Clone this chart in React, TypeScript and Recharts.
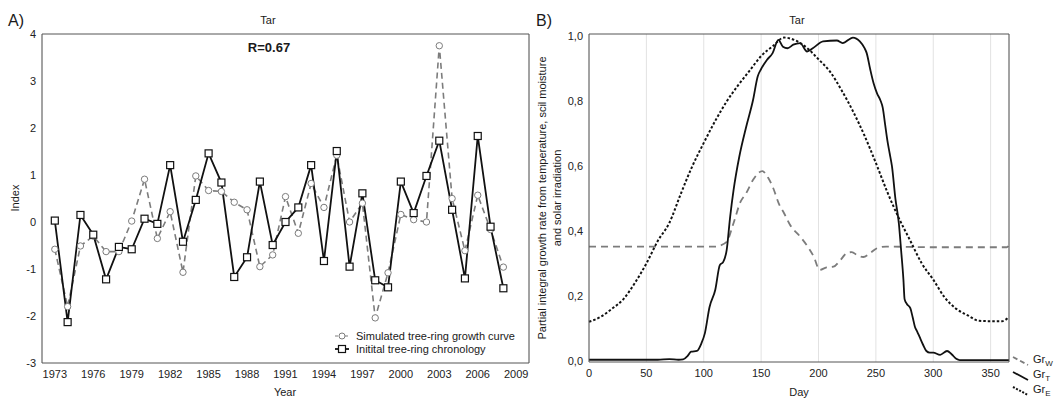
import React from "react";
import { LineChart, Line, XAxis, YAxis, CartesianGrid } from "recharts";

const FONT = '"Liberation Sans", Arial, sans-serif';
const AX = "#555";
const GRID = "#e2e2e2";
const GRAY = "#7c7c7c";

// ---- panel A: tree-ring indices
const years = [
  1973, 1974, 1975, 1976, 1977, 1978, 1979, 1980, 1981, 1982, 1983, 1984,
  1985, 1986, 1987, 1988, 1989, 1990, 1991, 1992, 1993, 1994, 1995, 1996,
  1997, 1998, 1999, 2000, 2001, 2002, 2003, 2004, 2005, 2006, 2007, 2008,
];
const chronology = [
  0.03, -2.13, 0.15, -0.27, -1.22, -0.53, -0.58, 0.07, -0.04, 1.21, -0.42, 0.47,
  1.46, 0.84, -1.17, -0.75, 0.86, -0.49, 0.0, 0.31, 1.21, -0.83, 1.51, -0.95,
  0.61, -1.24, -1.39, 0.86, 0.19, 0.98, 1.73, 0.26, -1.2, 1.83, -0.1, -1.41,
];
const simulated = [
  -0.58, -1.8, -0.51, -0.3, -0.63, -0.63, 0.02, 0.91, -0.35, 0.22, -1.07, 0.98,
  0.67, 0.65, 0.42, 0.26, -0.95, -0.7, 0.54, -0.24, 0.82, 0.31, 1.42, 0.0,
  0.4, -2.04, -1.08, 0.16, 0.05, 0.0, 3.75, 0.5, -0.61, 0.57, -0.16, -0.96,
];
const yearTicks = [1973, 1976, 1979, 1982, 1985, 1988, 1991, 1994, 1997, 2000, 2003, 2006, 2009];
const yearGrid = [1973, 1975, 1977, 1979, 1981, 1983, 1985, 1987, 1989, 1991, 1993, 1995, 1997, 1999, 2001, 2003, 2005, 2007, 2009];
const indexTicks = [-3, -2, -1, 0, 1, 2, 3, 4];

// ---- panel B: partial growth rates
const grWDays = [0, 110, 114, 120, 126, 132, 137, 143, 151, 156, 160, 166, 170, 175, 184, 190, 196, 201, 207, 213, 219, 225, 229, 234, 239, 245, 251, 259, 300, 364, 366];
const grWValues = [0.352, 0.352, 0.355, 0.367, 0.425, 0.49, 0.517, 0.558, 0.585, 0.565, 0.537, 0.48, 0.455, 0.42, 0.383, 0.355, 0.32, 0.28, 0.288, 0.29, 0.31, 0.333, 0.335, 0.325, 0.32, 0.332, 0.347, 0.352, 0.35, 0.35, 0.357];

const grTDays = [0, 60, 70, 78, 82, 86, 89, 94, 98, 101, 105, 110, 114, 117, 120, 123, 126, 131, 137, 143, 147, 150, 155, 160, 165, 169, 173, 178, 184, 190, 195, 204, 216, 221, 230, 236, 240, 242, 245, 248, 251, 254, 256, 258, 260, 262, 264, 267, 270, 272, 274, 275, 277, 280, 282, 284, 286, 288, 291, 294, 297, 300, 306, 312, 316, 320, 323, 366];
const grTValues = [0.003, 0.003, 0.005, 0.003, 0.004, 0.015, 0.028, 0.03, 0.054, 0.085, 0.165, 0.218, 0.295, 0.305, 0.342, 0.444, 0.527, 0.63, 0.722, 0.805, 0.877, 0.9, 0.928, 0.949, 0.99, 0.969, 0.964, 0.975, 0.98, 0.954, 0.964, 0.985, 0.988, 0.98, 0.997, 0.985, 0.965, 0.949, 0.9, 0.856, 0.825, 0.803, 0.78, 0.73, 0.68, 0.64, 0.6, 0.5, 0.424, 0.34, 0.25, 0.19, 0.175, 0.162, 0.135, 0.105, 0.09, 0.074, 0.05, 0.03, 0.025, 0.025, 0.018, 0.03, 0.02, 0.006, 0.002, 0.002];

const grEDays = [0, 10, 20, 30, 40, 50, 60, 70, 80, 90, 100, 110, 120, 130, 140, 150, 160, 170, 180, 190, 200, 210, 220, 230, 240, 250, 260, 270, 280, 290, 300, 310, 320, 330, 340, 350, 360, 366];
const grEValues = [0.12, 0.135, 0.16, 0.19, 0.24, 0.3, 0.37, 0.425, 0.515, 0.6, 0.672, 0.74, 0.8, 0.85, 0.895, 0.94, 0.97, 0.997, 0.988, 0.965, 0.93, 0.892, 0.835, 0.77, 0.695, 0.61, 0.52, 0.44, 0.37, 0.3, 0.25, 0.195, 0.16, 0.14, 0.123, 0.122, 0.122, 0.135];

const dayTicks = [0, 50, 100, 150, 200, 250, 300, 350];
const dayMinor = [0, 10, 20, 30, 40, 50, 60, 70, 80, 90, 100, 110, 120, 130, 140, 150, 160, 170, 180, 190, 200, 210, 220, 230, 240, 250, 260, 270, 280, 290, 300, 310, 320, 330, 340, 350, 360];
const rateTicks = [0, 0.2, 0.4, 0.6, 0.8, 1.0];
const rateMinor = [0, 0.1, 0.2, 0.3, 0.4, 0.5, 0.6, 0.7, 0.8, 0.9, 1.0];

const treeData = years.map((year, i) => ({ year, sim: simulated[i], chron: chronology[i] }));
const toSeries = (days: number[], vals: number[]) => days.map((day, i) => ({ day, v: vals[i] }));

const tickStyle = { fill: "#222", fontSize: 11, fontFamily: FONT };

function Txt({ x, y, children, size = 11, bold = false, rotate = false, align = "center" }: any) {
  return (
    <div
      style={{
        position: "absolute",
        left: x,
        top: y,
        transform: `translate(${align === "left" ? "0" : "-50%"}, -50%)${rotate ? " rotate(-90deg)" : ""}`,
        fontFamily: FONT,
        fontSize: size,
        fontWeight: bold ? "bold" : "normal",
        color: "#1a1a1a",
        whiteSpace: "nowrap",
        lineHeight: 1,
      }}
    >
      {children}
    </div>
  );
}

const SquareDot = (p: any) =>
  p.cx == null ? null : (
    <rect key={p.index} x={p.cx - 3.5} y={p.cy - 3.5} width={7} height={7} fill="#fff" stroke="#111" strokeWidth={1.2} />
  );

const CircleDot = (p: any) =>
  p.cx == null ? null : (
    <circle key={p.index} cx={p.cx} cy={p.cy} r={3.2} fill="#fff" stroke={GRAY} strokeWidth={1} />
  );

function LegendA() {
  const row = (dash: boolean, label: string) => (
    <div style={{ display: "flex", alignItems: "center", height: 13 }}>
      <svg width={22} height={10} style={{ marginRight: 0 }}>
        <line x1={1} y1={5} x2={15} y2={5} stroke={dash ? GRAY : "#111"} strokeWidth={dash ? 1.2 : 1.8} strokeDasharray={dash ? "3 2" : undefined} />
        {dash ? (
          <circle cx={8} cy={5} r={3} fill="#fff" stroke={GRAY} />
        ) : (
          <rect x={4.5} y={1.5} width={7} height={7} fill="#fff" stroke="#111" strokeWidth={1.2} />
        )}
      </svg>
      <span style={{ fontFamily: FONT, fontSize: 11, color: "#1a1a1a" }}>{label}</span>
    </div>
  );
  return (
    <div style={{ position: "absolute", left: 334, top: 329 }}>
      {row(true, "Simulated tree-ring growth curve")}
      {row(false, "Initital tree-ring chronology")}
    </div>
  );
}

function LegendB() {
  const row = (kind: string, sub: string) => (
    <div style={{ display: "flex", alignItems: "center", height: 15 }}>
      <svg width={21} height={12}>
        <line
          x1={1}
          y1={2}
          x2={16}
          y2={10}
          stroke={kind === "w" ? GRAY : "#111"}
          strokeWidth={kind === "e" ? 2 : 1.8}
          strokeDasharray={kind === "w" ? "5 3" : kind === "e" ? "2 1.5" : undefined}
        />
      </svg>
      <span style={{ fontFamily: FONT, fontSize: 11, color: "#1a1a1a" }}>
        Gr<sub style={{ fontSize: 8 }}>{sub}</sub>
      </span>
    </div>
  );
  return (
    <div style={{ position: "absolute", left: 1012, top: 353 }}>
      {row("w", "W")}
      {row("t", "T")}
      {row("e", "E")}
    </div>
  );
}

export default function App() {
  return (
    <div style={{ position: "absolute", left: 0, top: 0, width: 1055, height: 399, background: "#fff", overflow: "hidden" }}>
      <div style={{ position: "absolute", left: 0, top: 0 }}>
        <LineChart width={540} height={399} data={treeData} margin={{ top: 34, right: 11, bottom: 12, left: 12 }}>
          <CartesianGrid xAxisId="top" yAxisId="left" horizontal={false} stroke={GRID} />
          <XAxis xAxisId="bottom" dataKey="year" type="number" domain={[1972, 2010]} ticks={yearTicks} interval={0} height={24} tickSize={0} tickMargin={7} axisLine={{ stroke: AX }} tick={tickStyle} />
          <XAxis xAxisId="top" orientation="top" mirror dataKey="year" type="number" domain={[1972, 2010]} ticks={yearGrid} interval={0} tick={false} tickSize={4} tickLine={{ stroke: AX }} axisLine={{ stroke: AX }} />
          <YAxis yAxisId="left" type="number" domain={[-3, 4]} ticks={indexTicks} interval={0} width={30} tickSize={0} tickMargin={6} axisLine={{ stroke: AX }} tick={tickStyle} />
          <YAxis yAxisId="right" orientation="right" mirror type="number" domain={[-3, 4]} ticks={indexTicks} interval={0} tick={false} tickSize={4} tickLine={{ stroke: AX }} axisLine={{ stroke: AX }} />
          <Line xAxisId="bottom" yAxisId="left" dataKey="sim" stroke={GRAY} strokeWidth={1.6} strokeDasharray="6 4" dot={CircleDot} isAnimationActive={false} />
          <Line xAxisId="bottom" yAxisId="left" dataKey="chron" stroke="#111" strokeWidth={1.8} dot={SquareDot} isAnimationActive={false} />
        </LineChart>
      </div>

      <div style={{ position: "absolute", left: 520, top: 0 }}>
        <LineChart width={535} height={399} margin={{ top: 34, right: 46, bottom: 12, left: 34 }}>
          <CartesianGrid xAxisId="bottom" yAxisId="left" horizontal={false} stroke={GRID} />
          <XAxis xAxisId="bottom" dataKey="day" type="number" domain={[0, 366]} ticks={dayTicks} interval={0} height={25} tickSize={0} tickMargin={7} axisLine={{ stroke: AX }} tick={tickStyle} />
          <XAxis xAxisId="bottomMinor" orientation="bottom" mirror dataKey="day" type="number" domain={[0, 366]} ticks={dayMinor} interval={0} tick={false} tickSize={3} tickLine={{ stroke: AX }} axisLine={false} />
          <XAxis xAxisId="top" orientation="top" mirror dataKey="day" type="number" domain={[0, 366]} ticks={dayMinor} interval={0} tick={false} tickSize={3} tickLine={{ stroke: AX }} axisLine={{ stroke: AX }} />
          <YAxis yAxisId="left" type="number" domain={[-0.004, 1.008]} ticks={rateTicks} interval={0} width={35} tickSize={0} tickMargin={6} axisLine={{ stroke: AX }} tick={tickStyle} tickFormatter={(v: number) => v.toFixed(1).replace(".", ",")} />
          <YAxis yAxisId="leftMinor" orientation="left" mirror type="number" domain={[-0.004, 1.008]} ticks={rateMinor} interval={0} tick={false} tickSize={3} tickLine={{ stroke: AX }} axisLine={false} />
          <YAxis yAxisId="right" orientation="right" mirror type="number" domain={[-0.004, 1.008]} ticks={rateMinor} interval={0} tick={false} tickSize={4} tickLine={{ stroke: AX }} axisLine={{ stroke: AX }} />
          <Line xAxisId="bottom" yAxisId="left" data={toSeries(grWDays, grWValues)} dataKey="v" type="monotone" stroke={GRAY} strokeWidth={1.8} strokeDasharray="7 5" dot={false} isAnimationActive={false} />
          <Line xAxisId="bottom" yAxisId="left" data={toSeries(grEDays, grEValues)} dataKey="v" type="monotone" stroke="#111" strokeWidth={2} strokeDasharray="2.5 2" dot={false} isAnimationActive={false} />
          <Line xAxisId="bottom" yAxisId="left" data={toSeries(grTDays, grTValues)} dataKey="v" type="monotone" stroke="#111" strokeWidth={1.8} dot={false} isAnimationActive={false} />
        </LineChart>
      </div>

      <Txt x={8} y={21} size={16} align="left">A)</Txt>
      <Txt x={268} y={20}>Tar</Txt>
      <Txt x={269} y={47} size={13} bold>R=0.67</Txt>
      <Txt x={15} y={198} rotate>Index</Txt>
      <Txt x={285} y={392}>Year</Txt>
      <LegendA />

      <Txt x={536} y={21} size={16} align="left">B)</Txt>
      <Txt x={797} y={20}>Tar</Txt>
      <Txt x={541.5} y={198} rotate>Partial integral growth rate from temperature, scil moisture</Txt>
      <Txt x={556.5} y={198} rotate>and solar irradiation</Txt>
      <Txt x={799} y={392}>Day</Txt>
      <LegendB />
    </div>
  );
}
